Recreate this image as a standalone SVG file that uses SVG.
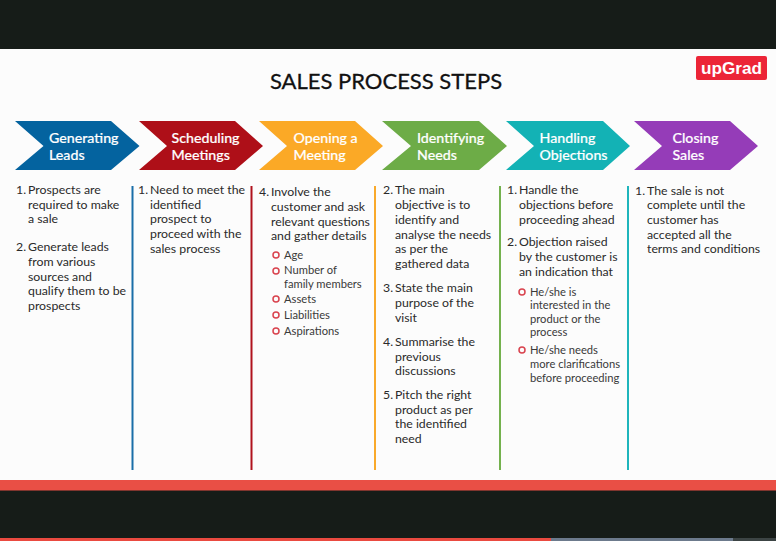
<svg xmlns="http://www.w3.org/2000/svg" width="776" height="541" viewBox="0 0 776 541">
<style>
text{font-family:Lato,"Open Sans","Liberation Sans",sans-serif}
.h{font-size:14.2px;font-weight:500;fill:#fff;stroke:#fff;stroke-width:.2}
.b{font-size:12.3px;fill:#2a2a2a}
.s{font-size:11.2px;fill:#3a3a3a}
.d{fill:none;stroke:#d9434e;stroke-width:1.5}
.v{stroke-width:2;fill:none}
</style>
<rect width="776" height="541" fill="#161c18"/>
<rect y="49" width="776" height="431" fill="#fcfcfc"/>
<rect y="480" width="776" height="10.500" fill="#e94f45"/>
<rect y="538" width="551" height="3" fill="#ea4a40"/>
<rect x="551" y="538" width="182" height="3" fill="#6c7a8c"/>
<rect x="733" y="538" width="43" height="3" fill="#3c4444"/>
<g id="title"><text x="386" y="89" text-anchor="middle" font-size="22" fill="#111" stroke="#111" stroke-width=".3">SALES PROCESS STEPS</text></g>
<g id="logo"><rect x="696" y="56" width="71" height="24" rx="2" fill="#ec2537"/><text x="731.500" y="74" text-anchor="middle" style="font-family:'Liberation Sans',sans-serif" font-size="17.200" font-weight="700" fill="#fff">upGrad</text></g>
<g id="connectors">
<path class="v" stroke="#1a6ea8" d="M132.500 186V470"/>
<path class="v" stroke="#b0121d" d="M251.500 186V470"/>
<path class="v" stroke="#f9a92b" d="M375 186V470"/>
<path class="v" stroke="#74b14e" d="M500 186V470"/>
<path class="v" stroke="#1fb5bc" d="M628 186V470"/>
</g>
<g id="step-1"><path fill="#04639f" d="M15 121H111L139.500 146 111 170H15L43.500 146Z"/><text class="h" x="49" y="143">Generating</text><text class="h" x="49" y="160">Leads</text></g>
<g id="step-2"><path fill="#ae0f18" d="M139 121H235L263 146 235 170H139L167 146Z"/><text class="h" x="171.500" y="143">Scheduling</text><text class="h" x="171.500" y="160">Meetings</text></g>
<g id="step-3"><path fill="#fba926" d="M259 121H355L383 146 355 170H259L287 146Z"/><text class="h" x="293.500" y="143">Opening a</text><text class="h" x="293.500" y="160">Meeting</text></g>
<g id="step-4"><path fill="#6dac47" d="M382 121H479L507 146 479 170H382L411 146Z"/><text class="h" x="417" y="143">Identifying</text><text class="h" x="417" y="160">Needs</text></g>
<g id="step-5"><path fill="#13b2b5" d="M506 121H603L630 146 603 170H506L534 146Z"/><text class="h" x="539.500" y="143">Handling</text><text class="h" x="539.500" y="160">Objections</text></g>
<g id="step-6"><path fill="#953cb8" d="M634 121H730L758 146 730 170H634L662 146Z"/><text class="h" x="672.500" y="143">Closing</text><text class="h" x="672.500" y="160">Sales</text></g>
<g id="col-1">
<text class="b" x="16" y="194">1.</text><text class="b" x="28" y="194">Prospects are</text><text class="b" x="28" y="209">required to make</text><text class="b" x="28" y="223">a sale</text>
<text class="b" x="16" y="251">2.</text><text class="b" x="28" y="251">Generate leads</text><text class="b" x="28" y="266">from various</text><text class="b" x="28" y="281">sources and</text><text class="b" x="28" y="295">qualify them to be</text><text class="b" x="28" y="310">prospects</text>
</g>
<g id="col-2">
<text class="b" x="138" y="194">1.</text><text class="b" x="150" y="194">Need to meet the</text><text class="b" x="150" y="209">identified</text><text class="b" x="150" y="223">prospect to</text><text class="b" x="150" y="238">proceed with the</text><text class="b" x="150" y="253">sales process</text>
</g>
<g id="col-3">
<text class="b" x="259" y="196">4.</text><text class="b" x="271" y="196">Involve the</text><text class="b" x="271" y="211">customer and ask</text><text class="b" x="271" y="226">relevant questions</text><text class="b" x="271" y="240">and gather details</text>
<circle class="d" cx="276" cy="255" r="3"/><text class="s" x="284" y="259">Age</text>
<circle class="d" cx="276" cy="271" r="3"/><text class="s" x="284" y="274">Number of</text><text class="s" x="284" y="288">family members</text>
<circle class="d" cx="276" cy="299" r="3"/><text class="s" x="284" y="303">Assets</text>
<circle class="d" cx="276" cy="315" r="3"/><text class="s" x="284" y="319">Liabilities</text>
<circle class="d" cx="276" cy="331" r="3"/><text class="s" x="284" y="335">Aspirations</text>
</g>
<g id="col-4">
<text class="b" x="383" y="194">2.</text><text class="b" x="395" y="194">The main</text><text class="b" x="395" y="209">objective is to</text><text class="b" x="395" y="224">identify and</text><text class="b" x="395" y="239">analyse the needs</text><text class="b" x="395" y="253">as per the</text><text class="b" x="395" y="268">gathered data</text>
<text class="b" x="383" y="292">3.</text><text class="b" x="395" y="292">State the main</text><text class="b" x="395" y="307">purpose of the</text><text class="b" x="395" y="322">visit</text>
<text class="b" x="383" y="346">4.</text><text class="b" x="395" y="346">Summarise the</text><text class="b" x="395" y="361">previous</text><text class="b" x="395" y="375">discussions</text>
<text class="b" x="383" y="399">5.</text><text class="b" x="395" y="399">Pitch the right</text><text class="b" x="395" y="414">product as per</text><text class="b" x="395" y="428">the identified</text><text class="b" x="395" y="443">need</text>
</g>
<g id="col-5">
<text class="b" x="507" y="194">1.</text><text class="b" x="519" y="194">Handle the</text><text class="b" x="519" y="209">objections before</text><text class="b" x="519" y="224">proceeding ahead</text>
<text class="b" x="507" y="246">2.</text><text class="b" x="519" y="246">Objection raised</text><text class="b" x="519" y="261">by the customer is</text><text class="b" x="519" y="276">an indication that</text>
<circle class="d" cx="522" cy="292" r="3"/><text class="s" x="530" y="296">He/she is</text><text class="s" x="530" y="309">interested in the</text><text class="s" x="530" y="323">product or the</text><text class="s" x="530" y="336">process</text>
<circle class="d" cx="522" cy="350" r="3"/><text class="s" x="530" y="354">He/she needs</text><text class="s" x="530" y="368">more clarifications</text><text class="s" x="530" y="382">before proceeding</text>
</g>
<g id="col-6">
<text class="b" x="635" y="195">1.</text><text class="b" x="647" y="195">The sale is not</text><text class="b" x="647" y="209">complete until the</text><text class="b" x="647" y="224">customer has</text><text class="b" x="647" y="239">accepted all the</text><text class="b" x="647" y="253">terms and conditions</text>
</g>
</svg>
